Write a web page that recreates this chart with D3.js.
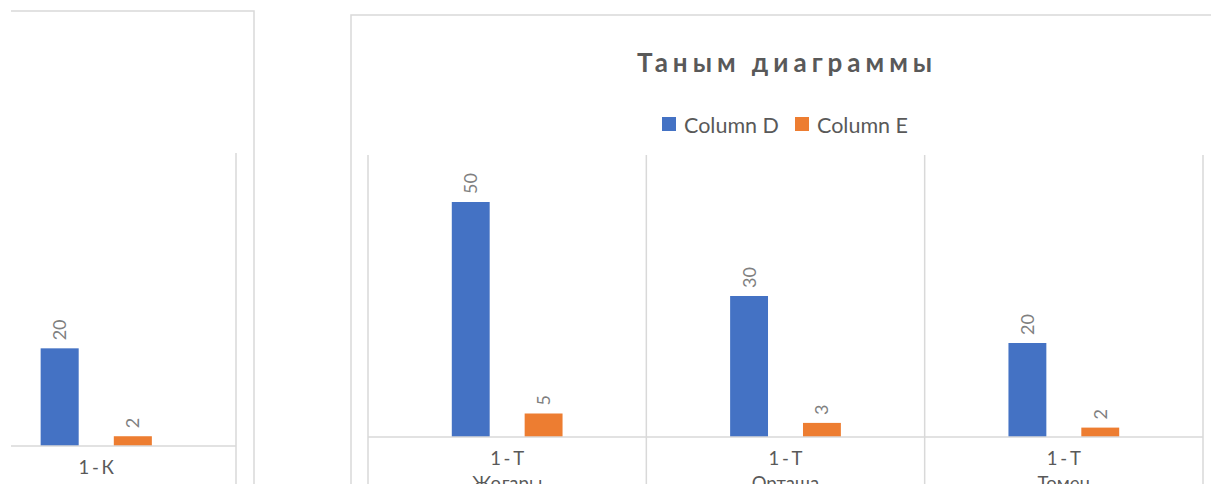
<!DOCTYPE html>
<html>
<head>
<meta charset="utf-8">
<script src="https://cdn.jsdelivr.net/npm/d3@7"></script>
<style>
  body { margin: 0; background: #fff; }
  svg { display: block; font-family: Lato, "Open Sans", sans-serif; }
</style>
</head>
<body>
<div id="chart"></div>
<script>
const seriesNames = ["Column D", "Column E"];
const seriesColors = ["#4472c4", "#ed7d31"];

// left chart (only partly visible)
const leftCategories = [["1 - К"]];
const leftColumnD = [20];
const leftColumnE = [2];

// right chart
const chartTitle = "Таным диаграммы";
const rightCategories = [["1 - Т", "Жоғары"], ["1 - Т", "Орташа"], ["1 - Т", "Төмен"]];
const rightColumnD = [50, 30, 20];
const rightColumnE = [5, 3, 2];

const yDomain = [0, 60];

const width = 1211;
const height = 484;
const grid = "#d9d9d9";

const svg = d3.select("#chart").append("svg")
    .attr("width", width)
    .attr("height", height);

svg.append("defs").append("clipPath")
    .attr("id", "clipLeft")
    .append("rect")
    .attr("x", 11).attr("y", 0)
    .attr("width", 260).attr("height", height);

function drawPlot(g, cats, colD, colE, x0, x1, yTop, yBase) {
    const x = d3.scaleBand()
        .domain(cats.map((c, i) => i))
        .range([x0, x1]);
    const xs = d3.scaleBand()
        .domain(seriesNames)
        .range([0, x.bandwidth()])
        .paddingInner(0.48)
        .paddingOuter(1.15);
    const y = d3.scaleLinear().domain(yDomain).range([yBase, yTop]);

    // category separators
    const bounds = cats.map((c, i) => x(i)).concat([x1]);
    g.selectAll("line.sep")
        .data(bounds)
        .enter().append("line")
        .attr("class", "sep")
        .attr("x1", d => d).attr("x2", d => d)
        .attr("y1", yTop).attr("y2", height + 5)
        .attr("stroke", grid)
        .attr("stroke-width", 1.5);

    const rows = cats.map((c, i) => ({ i: i, vals: [colD[i], colE[i]] }));
    const groups = g.selectAll("g.cat")
        .data(rows)
        .enter().append("g")
        .attr("class", "cat")
        .attr("transform", d => "translate(" + x(d.i) + ",0)");

    groups.selectAll("rect")
        .data(d => d.vals.map((v, k) => ({ s: seriesNames[k], v: v, k: k })))
        .enter().append("rect")
        .attr("x", d => xs(d.s))
        .attr("width", xs.bandwidth())
        .attr("y", d => y(d.v))
        .attr("height", d => y(0) - y(d.v))
        .attr("fill", d => seriesColors[d.k]);

    groups.selectAll("text.val")
        .data(d => d.vals.map((v, k) => ({ s: seriesNames[k], v: v })))
        .enter().append("text")
        .attr("class", "val")
        .attr("transform", d => "translate(" + (xs(d.s) + xs.bandwidth() / 2 + 6.5) + "," + (y(d.v) - 8) + ") rotate(-90)")
        .attr("font-size", 18)
        .attr("fill", "#7f7f7f")
        .text(d => d.v);

    // baseline
    g.append("line")
        .attr("x1", x0).attr("x2", x1)
        .attr("y1", yBase).attr("y2", yBase)
        .attr("stroke", grid)
        .attr("stroke-width", 1.5);

    const labels = groups.append("text")
        .attr("text-anchor", "middle")
        .attr("font-size", 18.5)
        .attr("word-spacing", -2)
        .attr("fill", "#595959")
        .attr("y", yBase + 28);
    labels.selectAll("tspan")
        .data(d => cats[d.i])
        .enter().append("tspan")
        .attr("x", x.bandwidth() / 2)
        .attr("dy", (d, j) => j === 0 ? 0 : 25)
        .text(d => d);
}

// ---- left chart ----
const left = svg.append("g").attr("clip-path", "url(#clipLeft)");
left.append("rect")
    .attr("x", -300).attr("y", 11)
    .attr("width", 554).attr("height", 600)
    .attr("fill", "none")
    .attr("stroke", grid)
    .attr("stroke-width", 1.5);
drawPlot(left, leftCategories, leftColumnD, leftColumnE, -43.5, 236, 153, 446);

// ---- right chart ----
const right = svg.append("g");
right.append("rect")
    .attr("x", 351).attr("y", 15)
    .attr("width", 900).attr("height", 600)
    .attr("fill", "none")
    .attr("stroke", grid)
    .attr("stroke-width", 1.5);

right.append("text")
    .attr("x", 787).attr("y", 72)
    .attr("text-anchor", "middle")
    .attr("font-size", 26)
    .attr("font-weight", "bold")
    .attr("letter-spacing", 5)
    .attr("fill", "#595959")
    .text(chartTitle);

const legend = right.selectAll("g.legend")
    .data(seriesNames)
    .enter().append("g")
    .attr("class", "legend")
    .attr("transform", (d, i) => "translate(" + (662 + i * 133) + ",117)");
legend.append("rect")
    .attr("width", 14).attr("height", 14)
    .attr("fill", (d, i) => seriesColors[i]);
legend.append("text")
    .attr("x", 22).attr("y", 15.5)
    .attr("font-size", 21.5)
    .attr("fill", "#595959")
    .text(d => d);

drawPlot(right, rightCategories, rightColumnD, rightColumnE, 368, 1203, 155, 437);
</script>
</body>
</html>
